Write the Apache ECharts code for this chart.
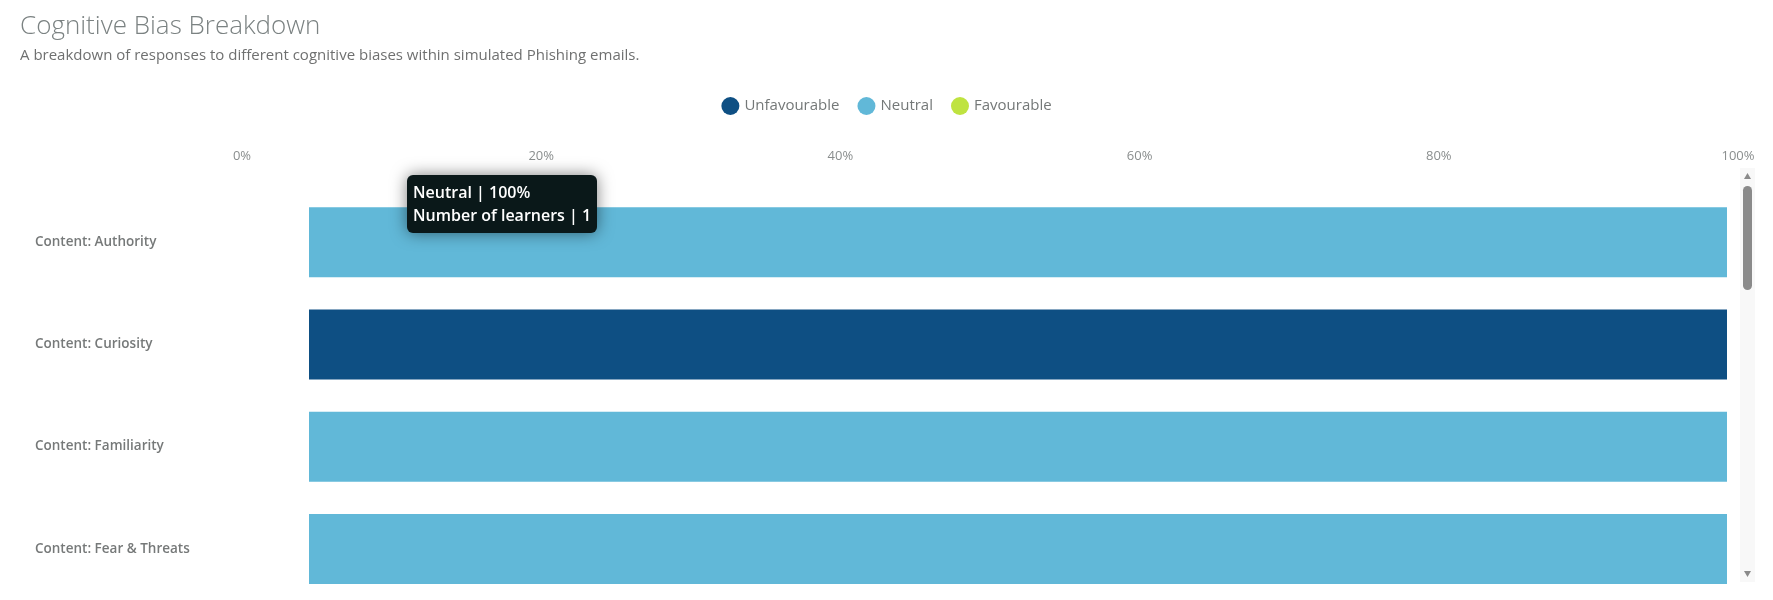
<!DOCTYPE html>
<html>
<head>
<meta charset="utf-8">
<title>Cognitive Bias Breakdown</title>
<script src="https://cdn.jsdelivr.net/npm/echarts@6/dist/echarts.min.js"></script>
<style>
  html, body { margin: 0; padding: 0; background: #fff; }
  #main { width: 1773px; height: 600px; }
</style>
</head>
<body>
<div id="main"></div>
<script>
  // categories, top to bottom
  var categories = ["Content: Authority", "Content: Curiosity", "Content: Familiarity", "Content: Fear & Threats"];
  var seriesNames = ["Unfavourable", "Neutral", "Favourable"];
  // percent of responses
  var unfavourable = [0, 100, 0, 0];
  var neutral = [100, 0, 100, 100];
  var favourable = [0, 0, 0, 0];
  // learners behind each share
  var unfavourableCount = [0, 1, 0, 0];
  var neutralCount = [1, 0, 1, 1];
  var favourableCount = [0, 0, 0, 0];
  var tickValues = [0, 20, 40, 60, 80, 100];

  var colors = ["#0e4f83", "#61b8d8", "#bfe340"];
  var font = "'Open Sans', 'Noto Sans', sans-serif";
  var counts = [unfavourableCount, neutralCount, favourableCount];

  var myChart = echarts.init(document.getElementById("main"));

  function barSeries(name, data, idx) {
    return {
      name: name,
      type: "bar",
      stack: "total",
      xAxisIndex: 0,
      yAxisIndex: 0,
      barWidth: 70,
      data: data,
      itemStyle: { color: colors[idx] },
      emphasis: { disabled: true }
    };
  }

  var option = {
    animation: false,
    color: colors,
    title: {
      text: "Cognitive Bias Breakdown",
      subtext: "A breakdown of responses to different cognitive biases within simulated Phishing emails.",
      left: 20,
      top: 14,
      padding: 0,
      itemGap: 8,
      textStyle: { fontFamily: font, fontSize: 26, fontWeight: 300, color: "#7b8282" },
      subtextStyle: { fontFamily: font, fontSize: 15, color: "#6f7070" }
    },
    legend: {
      data: seriesNames,
      top: 97,
      left: "center",
      padding: 0,
      icon: "circle",
      itemWidth: 18,
      itemHeight: 18,
      itemGap: 18,
      textStyle: { fontFamily: font, fontSize: 15, color: "#747878" }
    },
    tooltip: {
      trigger: "item",
      alwaysShowContent: true,
      transitionDuration: 0,
      backgroundColor: "#0a1819",
      borderWidth: 0,
      padding: [6, 6],
      textStyle: { fontFamily: font, fontSize: 16, color: "#ffffff", fontWeight: 600 },
      extraCssText: "border-radius:6px;box-shadow:0 0 16px rgba(0,0,0,0.5);line-height:23px;",
      position: function () { return [407, 175]; },
      formatter: function (p) {
        var c = counts[p.seriesIndex][p.dataIndex];
        return p.seriesName + " | " + p.value + "%<br/>Number of learners | " + c;
      }
    },
    grid: [
      { left: 309, right: 46, top: 191, bottom: 0, containLabel: false },
      { left: 242, right: 35, top: 171, height: 10, containLabel: false }
    ],
    xAxis: [
      { type: "value", gridIndex: 0, min: 0, max: 100, show: false },
      {
        type: "value",
        gridIndex: 1,
        position: "top",
        min: 0,
        max: 100,
        interval: 20,
        axisLine: { show: false },
        axisTick: { show: false },
        splitLine: { show: false },
        axisLabel: {
          margin: 8,
          fontFamily: font,
          fontSize: 13,
          color: "#8a8e8e",
          formatter: function (v) { return tickValues.indexOf(v) >= 0 ? v + "%" : ""; }
        }
      }
    ],
    yAxis: [
      {
        type: "category",
        gridIndex: 0,
        inverse: true,
        data: categories,
        axisLine: { show: false },
        axisTick: { show: false },
        splitLine: { show: false },
        axisLabel: {
          align: "left",
          margin: 274,
          fontFamily: font,
          fontSize: 13.5,
          fontWeight: 600,
          color: "#767979"
        }
      },
      { type: "value", gridIndex: 1, show: false }
    ],
    graphic: [
      {
        type: "group",
        silent: true,
        children: [
          { type: "rect", shape: { x: 1740, y: 168, width: 15, height: 414 }, style: { fill: "#f8f8f8" } },
          { type: "rect", shape: { x: 1743, y: 186, width: 9, height: 104, r: 4.5 }, style: { fill: "#8a8a8a" } },
          { type: "polygon", shape: { points: [[1744, 179], [1751, 179], [1747.5, 173]] }, style: { fill: "#8a8a8a" } },
          { type: "polygon", shape: { points: [[1744, 571], [1751, 571], [1747.5, 577]] }, style: { fill: "#8a8a8a" } }
        ]
      }
    ],
    series: [
      barSeries(seriesNames[0], unfavourable, 0),
      barSeries(seriesNames[1], neutral, 1),
      barSeries(seriesNames[2], favourable, 2)
    ]
  };

  myChart.setOption(option);
  myChart.dispatchAction({ type: "showTip", seriesIndex: 1, dataIndex: 0 });
</script>
</body>
</html>
